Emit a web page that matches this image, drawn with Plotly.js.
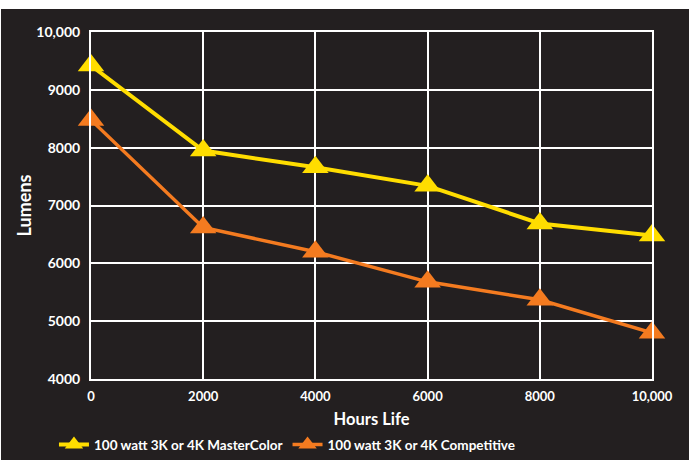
<!DOCTYPE html>
<html>
<head>
<meta charset="utf-8">
<script src="https://cdn.plot.ly/plotly-3.0.1.min.js"></script>
<style>
  html, body { margin: 0; padding: 0; background: #ffffff; width: 694px; height: 460px; overflow: hidden; }
  #chart { position: absolute; left: 1px; top: 9px; width: 688px; height: 451px; }
</style>
</head>
<body>
<div id="chart"></div>
<script>
const hours = [0, 2000, 4000, 6000, 8000, 10000];
const masterColor = [9420, 7950, 7660, 7340, 6690, 6480];
const competitive = [8480, 6620, 6200, 5680, 5370, 4800];
const seriesNames = ["100 watt 3K or 4K MasterColor", "100 watt 3K or 4K Competitive"];
const xTickVals = [0, 2000, 4000, 6000, 8000, 10000];
const xTickText = ["0", "2000", "4000", "6000", "8000", "10,000"];
const yTickVals = [4000, 5000, 6000, 7000, 8000, 9000, 10000];
const yTickText = ["4000", "5000", "6000", "7000", "8000", "9000", "10,000"];

const FONT = "Lato, 'Open Sans', sans-serif";
const BG = "#231f20";

const traces = [
  {
    x: hours, y: masterColor, name: seriesNames[0], type: "scatter", mode: "lines+markers",
    line: { color: "#ffdd00", width: 4 },
    marker: { symbol: "triangle-up", size: 23, color: "#ffdd00" },
    cliponaxis: false
  },
  {
    x: hours, y: competitive, name: seriesNames[1], type: "scatter", mode: "lines+markers",
    line: { color: "#f47b20", width: 3.5 },
    marker: { symbol: "triangle-up", size: 23, color: "#f47b20" },
    cliponaxis: false
  }
];

const layout = {
  width: 688, height: 451,
  paper_bgcolor: BG, plot_bgcolor: BG,
  margin: { l: 90, r: 37, t: 23, b: 81 },
  font: { family: FONT, color: "#ffffff", size: 13, weight: "bold" },
  showlegend: true,
  legend: {
    orientation: "h", xref: "container", yref: "container",
    x: 0.077, xanchor: "left", y: 0.034, yanchor: "middle",
    font: { family: FONT, size: 13.5, color: "#ffffff", weight: "bold" },
    bgcolor: "rgba(0,0,0,0)", traceorder: "normal"
  },
  xaxis: {
    range: [0, 10000], tickvals: xTickVals, ticktext: xTickText,
    showgrid: true, gridcolor: "#ffffff", gridwidth: 2,
    zeroline: false, showline: true, linecolor: "#ffffff", linewidth: 2, mirror: true,
    ticks: "outside", ticklen: 4, tickcolor: BG,
    tickfont: { family: FONT, size: 13, color: "#ffffff", weight: "bold" },
    title: { text: "Hours Life", font: { family: FONT, size: 16.5, color: "#ffffff", weight: "bold" } },
    automargin: false,
    fixedrange: true
  },
  yaxis: {
    range: [4000, 10000], tickvals: yTickVals, ticktext: yTickText,
    showgrid: true, gridcolor: "#ffffff", gridwidth: 2,
    zeroline: false, showline: true, linecolor: "#ffffff", linewidth: 2, mirror: true,
    ticks: "outside", ticklen: 6, tickcolor: BG,
    tickfont: { family: FONT, size: 14, color: "#ffffff", weight: "bold" },
    title: { text: "Lumens", font: { family: FONT, size: 18, color: "#ffffff", weight: "bold" }, standoff: 0 },
    automargin: true,
    fixedrange: true
  }
};

Plotly.newPlot("chart", traces, layout, { displayModeBar: false, staticPlot: true });
</script>
</body>
</html>
